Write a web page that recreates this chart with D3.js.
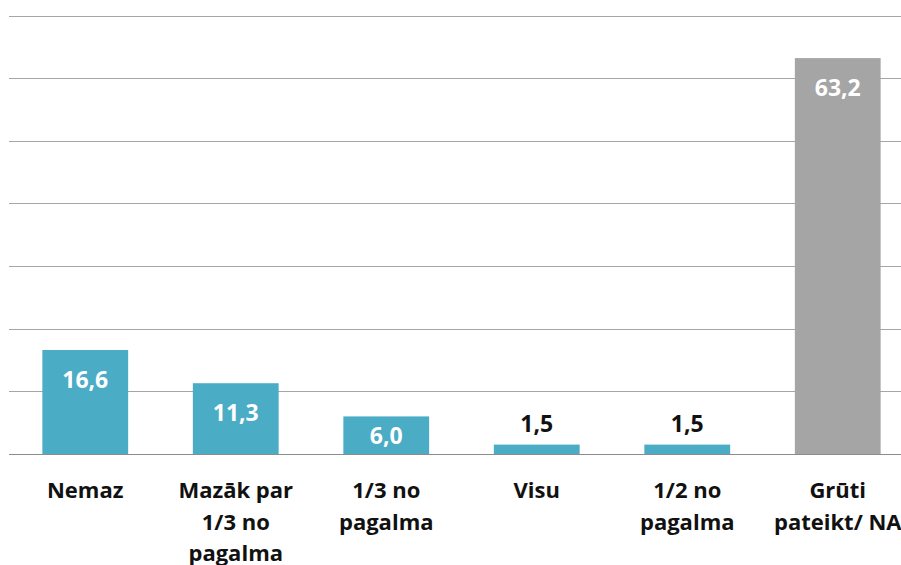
<!DOCTYPE html>
<head>
<meta charset="UTF-8">
<script src="https://d3js.org/d3.v7.min.js"></script>
<style>
	body{ margin: 0; background: #fff; }
	svg{ display: block; }
</style>
</head>
<body>
<svg width="901" height="565"></svg>
<script>
	// Chart data
	var categories = [["Nemaz"], ["Mazāk par", "1/3 no", "pagalma"], ["1/3 no", "pagalma"], ["Visu"], ["1/2 no", "pagalma"], ["Grūti", "pateikt/ NA"]];
	var values = [16.6, 11.3, 6.0, 1.5, 1.5, 63.2];
	var barColors = ["#4bacc6", "#4bacc6", "#4bacc6", "#4bacc6", "#4bacc6", "#a5a5a5"];
	var yTicks = [0, 10, 20, 30, 40, 50, 60, 70];

	var svg = d3.select("svg");
	var font = "'Open Sans', sans-serif";

	// Scales (the plot runs past the right edge of the window, like the original)
	var x = d3.scaleBand()
		.domain(d3.range(values.length))
		.range([10, 913])
		.paddingInner(0.43)
		.paddingOuter(0.215);

	var y = d3.scaleLinear()
		.domain([0, 70])
		.range([454, 15.5]);

	// Gridlines
	svg.append("g")
		.selectAll("line")
		.data(yTicks).enter()
		.append("line")
		.attr("x1", 9)
		.attr("x2", 901)
		.attr("y1", d => Math.round(y(d)) + 0.5)
		.attr("y2", d => Math.round(y(d)) + 0.5)
		.attr("stroke", d => d == 0 ? "#8c8c8c" : "#a6a6a6")
		.attr("stroke-width", 1.2);

	// Bars
	svg.append("g")
		.selectAll("rect")
		.data(values).enter()
		.append("rect")
		.attr("x", (d, i) => x(i))
		.attr("y", d => y(d))
		.attr("width", x.bandwidth())
		.attr("height", d => y(0) - y(d))
		.attr("fill", (d, i) => barColors[i]);

	// Value labels: inside the bar when there is room, otherwise above it
	svg.append("g")
		.selectAll("text")
		.data(values).enter()
		.append("text")
		.attr("x", (d, i) => x(i) + x.bandwidth() / 2)
		.attr("y", function(d){
			var h = y(0) - y(d);
			if(h > 25) return Math.min(y(d) + 29, (y(d) + y(0)) / 2);
			return y(d) - 22;
		})
		.attr("dominant-baseline", "central")
		.attr("text-anchor", "middle")
		.attr("font-family", font)
		.attr("font-weight", "bold")
		.attr("font-size", "23px")
		.attr("fill", d => (y(0) - y(d)) > 25 ? "#ffffff" : "#111111")
		.text(d => d.toFixed(1).replace(".", ","));

	// Category labels
	var labels = svg.append("g")
		.selectAll("text")
		.data(categories).enter()
		.append("text")
		.attr("text-anchor", "middle")
		.attr("font-family", font)
		.attr("font-weight", "bold")
		.attr("font-size", "22px")
		.attr("fill", "#111111");

	labels.selectAll("tspan")
		.data((d, i) => d.map(line => ({line: line, i: i})))
		.enter()
		.append("tspan")
		.attr("x", d => x(d.i) + x.bandwidth() / 2)
		.attr("y", (d, j) => 498 + j * 31.5)
		.text(d => d.line);
</script>
</body>
